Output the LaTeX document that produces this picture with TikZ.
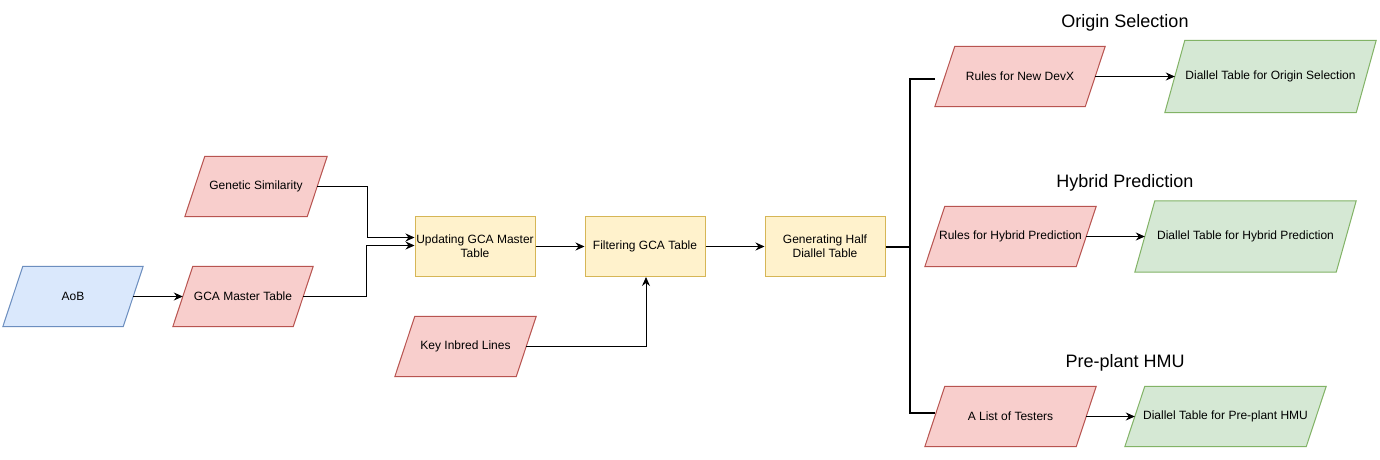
\documentclass[tikz,border=0pt]{standalone}
\usepackage{fontspec}
\setmainfont{Liberation Sans}
\usetikzlibrary{arrows.meta,backgrounds,calc}
\definecolor{redF}{HTML}{F8CECC}\definecolor{redD}{HTML}{B85450}
\definecolor{bluF}{HTML}{DAE8FC}\definecolor{bluD}{HTML}{6C8EBF}
\definecolor{yelF}{HTML}{FFF2CC}\definecolor{yelD}{HTML}{D6B656}
\definecolor{grnF}{HTML}{D5E8D4}\definecolor{grnD}{HTML}{82B366}
\newcommand{\mypg}[3]{%
  \begin{scope}[on background layer]
    \filldraw[fill=#2,draw=#3,line width=1pt]
      ($(#1.south west)+(-10,0)$) -- ($(#1.south east)+(-10,0)$) --
      ($(#1.north east)+(10,0)$) -- ($(#1.north west)+(10,0)$) -- cycle;
  \end{scope}}
\begin{document}
\begin{tikzpicture}[x=1pt,y=1pt,
  txt/.style={font=\fontsize{12}{14}\selectfont, align=center, inner sep=0pt, text=black},
  pgnode/.style={txt, minimum width=#1, minimum height=60pt},
  box/.style={txt, draw=yelD, fill=yelF, line width=1pt, minimum width=120pt, minimum height=60pt},
  arr/.style={-{Stealth[length=9pt,width=8pt,inset=3pt]}, line width=1pt},
  bus/.style={line width=2pt},
  ttl/.style={font=\fontsize{18}{21}\selectfont, inner sep=0pt, text=black}]
\begin{scope}[on background layer]
  \fill[white] (0,0) rectangle (1380,459);
\end{scope}
\useasboundingbox (0,0) rectangle (1380,459);

% left inputs
\node[pgnode=120pt] (aob) at (73,162.5) {AoB};
\node[pgnode=120pt] (gca) at (243,162.5) {GCA Master Table};
\node[pgnode=122pt] (gen) at (256,272.5) {Genetic Similarity};
\node[pgnode=121pt] (key) at (465.5,112.5) {Key Inbred Lines};
\mypg{aob}{bluF}{bluD}
\mypg{gca}{redF}{redD}
\mypg{gen}{redF}{redD}
\mypg{key}{redF}{redD}

% process boxes
\node[box] (upd) at (475,212.5) {Updating GCA Master\\Table};
\node[box] (fil) at (645,212.5) {Filtering GCA Table};
\node[box] (hal) at (825,212.5) {Generating Half\\Diallel Table};

% right side
\node[ttl] (t1) at (1125,436.5) {Origin Selection};
\node[ttl] (t2) at (1125,276.5) {Hybrid Prediction};
\node[ttl] (t3) at (1125,96.5) {Pre-plant HMU};

\node[pgnode=150pt] (rnd) at (1020,382.5) {Rules for New DevX};
\node[pgnode=151pt] (rhp) at (1010.5,222.5) {Rules for Hybrid Prediction};
\node[pgnode=151pt] (lst) at (1010.5,42.5) {A List of Testers};
\node[pgnode=191pt, minimum height=72pt] (dos) at (1270.5,382.5) {Diallel Table for Origin Selection};
\node[pgnode=201pt, minimum height=71pt] (dhp) at (1245.5,222.5) {Diallel Table for Hybrid Prediction};
\node[pgnode=181pt] (dpp) at (1225.5,42.5) {Diallel Table for Pre-plant HMU};
\mypg{rnd}{redF}{redD}
\mypg{rhp}{redF}{redD}
\mypg{lst}{redF}{redD}
\mypg{dos}{grnF}{grnD}
\mypg{dhp}{grnF}{grnD}
\mypg{dpp}{grnF}{grnD}

% connectors
\draw[arr] (aob.east) -- (gca.west);
\draw[arr] (gen.east) -- ++(50,0) |- ($(upd.west)+(0,9)$);
\draw[arr] (gca.east) -- ++(63,0) |- ($(upd.west)+(0,1)$);
\draw[arr] (upd.east) -- (fil.west);
\draw[arr] (fil.east) -- (hal.west);
\draw[arr] (key.east) -| ($(fil.south)+(1,0)$);

\coordinate (bj) at (910,212.5);
\coordinate (bt) at (910,380.5);
\coordinate (bb) at (910,46);
\coordinate (et) at (935,380.5);
\coordinate (eb) at (935,46);
\draw[bus] (hal.east) -- (bj);
\draw[bus] (et) -- (bt) -- (bb) -- (eb);

\draw[arr] (rnd.east) -- (dos.west);
\draw[arr] (rhp.east) -- (dhp.west);
\draw[arr] (lst.east) -- (dpp.west);
\end{tikzpicture}
\end{document}
